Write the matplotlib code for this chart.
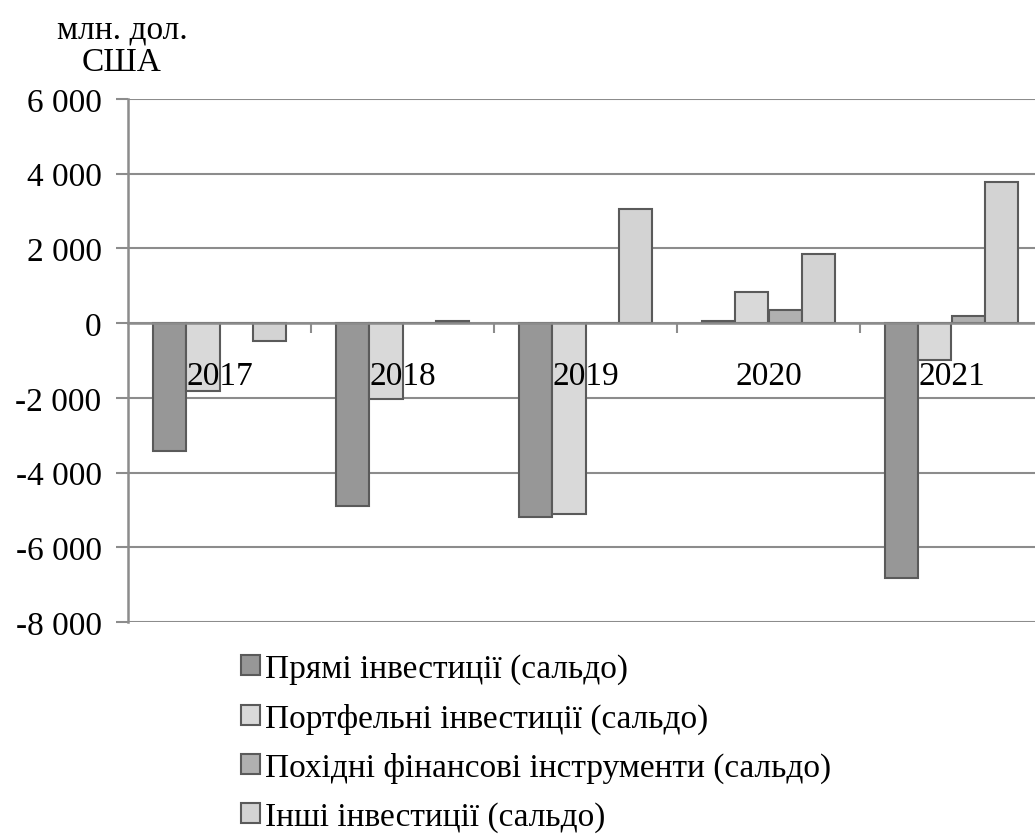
import matplotlib
matplotlib.use("Agg")
import matplotlib.pyplot as plt
import numpy as np

years = ["2017", "2018", "2019", "2020", "2021"]
direct = [-3430, -4885, -5200, 60, -6810]
portfolio = [-1815, -2040, -5120, 835, -992]
derivatives = [0, 0, 0, 353, 200]
other = [-487, 50, 3060, 1852, 3780]
series_names = ["Прямі інвестиції (сальдо)", "Портфельні інвестиції (сальдо)",
                "Похідні фінансові інструменти (сальдо)", "Інші інвестиції (сальдо)"]
yticks = [-8000, -6000, -4000, -2000, 0, 2000, 4000, 6000]
ytick_labels = ["-8 000", "-6 000", "-4 000", "-2 000", "0", "2 000", "4 000", "6 000"]

colors = ["#979797", "#d9d9d9", "#b0b0b0", "#d3d3d3"]
edge = "#5a5a5a"
grid_c = "#8c8c8c"

plt.rcParams['font.family'] = ['Liberation Serif', 'DejaVu Serif']
fs = 24

fig = plt.figure(figsize=(10.35, 8.37), dpi=100)
ax = fig.add_axes([128/1035, 1-623/837, (1043-128)/1035, (623-100)/837])

n = len(years)
x = np.arange(n)
bw = 1/5.5
data = [direct, portfolio, derivatives, other]
handles = []
for k, (vals, c) in enumerate(zip(data, colors)):
    left = x - 0.5 + 0.75*bw + k*bw
    h = ax.bar(left, vals, width=bw, align='edge', color=c, edgecolor=edge,
               linewidth=1.5, zorder=3, label=series_names[k])
    handles.append(h)

ax.set_xlim(-0.5, n-0.5)
ax.set_ylim(-8000, 6000)
ax.set_yticks(yticks)
ax.set_yticklabels(ytick_labels, fontsize=fs)
ax.yaxis.grid(True, color=grid_c, linewidth=1.5)
ax.yaxis.set_zorder(0.5)
ax.xaxis.set_zorder(5)

for s in ['top', 'right']:
    ax.spines[s].set_visible(False)
ax.spines['left'].set_color(grid_c)
ax.spines['left'].set_linewidth(1.8)
ax.spines['left'].set_zorder(0.6)
ax.spines['bottom'].set_position(('data', 0))
ax.spines['bottom'].set_color(grid_c)
ax.spines['bottom'].set_linewidth(1.8)
ax.spines['bottom'].set_zorder(4)

ax.tick_params(axis='y', length=9, width=1.5, color=grid_c, pad=10)
ax.set_xticks(x)
ax.set_xticklabels(years, fontsize=fs)
ax.tick_params(axis='x', which='major', length=0, pad=27)
ax.set_xticks(np.arange(0.5, n-0.5+0.01, 1), minor=True)
ax.tick_params(axis='x', which='minor', length=7, width=1.5, color=grid_c, direction='out')

fig.text(122/1035, 1-30/837, "млн. дол.", ha='center', va='center', fontsize=fs)
fig.text(122/1035, 1-63/837, "США", ha='center', va='center', fontsize=fs)

fig.legend(handles=handles, loc='upper left', bbox_to_anchor=(228/1035, 1-641/837),
           frameon=False, fontsize=fs, handlelength=0.55, handleheight=0.55,
           handletextpad=0.15, labelspacing=0.55, borderaxespad=0)

fig.savefig("out.png", dpi=100)
